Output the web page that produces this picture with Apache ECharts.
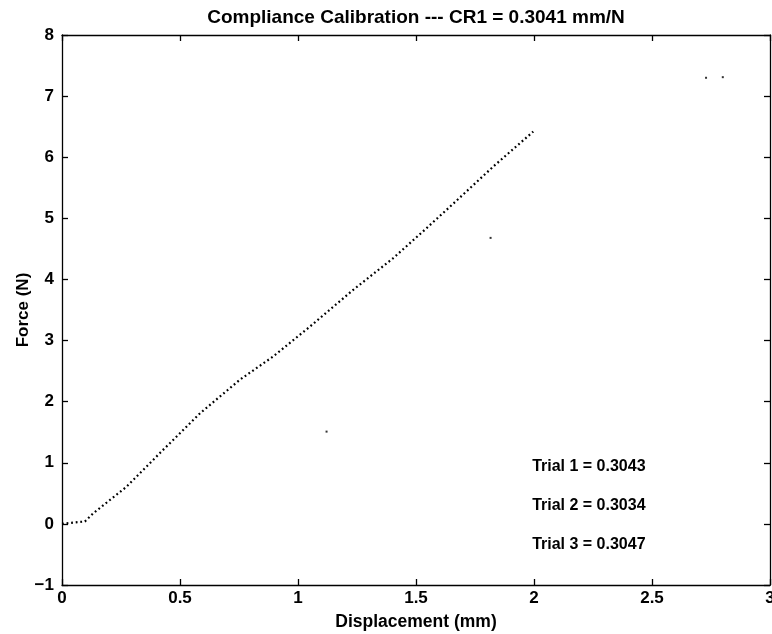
<!DOCTYPE html>
<html>
<head>
<meta charset="utf-8">
<script src="https://cdn.jsdelivr.net/npm/echarts@6/dist/echarts.min.js"></script>
<style>html,body{margin:0;padding:0;background:#fff}#c{width:772px;height:634px}</style>
</head>
<body>
<div id="c"></div>
<script>
const titleText = 'Compliance Calibration --- CR1 = 0.3041 mm/N';
const xName = 'Displacement (mm)';
const yName = 'Force (N)';
const xTicks = [0, 0.5, 1, 1.5, 2, 2.5, 3];
const yTicks = [-1, 0, 1, 2, 3, 4, 5, 6, 7, 8];
// calibration curve (displacement mm, force N)
const curveX = [0.00, 0.02, 0.097, 0.133, 0.274, 0.415, 0.585, 0.754, 0.895, 1.051, 1.234, 1.404, 1.545, 1.686, 1.828, 1.997];
const curveY = [0.00, 0.01, 0.04, 0.175, 0.61, 1.16, 1.81, 2.36, 2.74, 3.23, 3.83, 4.35, 4.84, 5.34, 5.85, 6.42];
// stray points
const strayX = [2.729, 2.80, 1.816, 1.121];
const strayY = [7.30, 7.31, 4.68, 1.51];
// annotations
const trialLabels = ['Trial 1 = 0.3043', 'Trial 2 = 0.3034', 'Trial 3 = 0.3047'];
const trialX = [1.99, 1.99, 1.99];
const trialY = [0.94, 0.30, -0.34];

const font = 'Liberation Sans, Arial, Helvetica, sans-serif';
const chart = echarts.init(document.getElementById('c'));
const axisLine = {show: true, onZero: false, lineStyle: {color: '#000', width: 1.3}};
const tick = {show: true, inside: true, length: 6, lineStyle: {color: '#000', width: 1.3}};
const lbl = {color: '#000', fontFamily: font, fontSize: 17, fontWeight: 'bold'};
const fmtY = v => String(v).replace('-', '\u2212');

chart.setOption({
  animation: false,
  backgroundColor: '#fff',
  title: {text: titleText, left: 411, top: 3, textAlign: 'center',
    textStyle: {color: '#000', fontFamily: font, fontSize: 19, fontWeight: 'bold'}},
  grid: {left: 62, right: 2, top: 35, bottom: 49, containLabel: false, outerBoundsMode: 'none'},
  xAxis: [
    {type: 'value', min: xTicks[0], max: xTicks[xTicks.length - 1], interval: 0.5,
      axisLine, axisTick: tick, splitLine: {show: false},
      axisLabel: Object.assign({}, lbl, {margin: 5}),
      name: xName, nameLocation: 'middle', nameGap: 28, nameMoveOverlap: false,
      nameTextStyle: {color: '#000', fontFamily: font, fontSize: 17.5, fontWeight: 'bold'}},
    {type: 'value', position: 'top', min: xTicks[0], max: xTicks[xTicks.length - 1], interval: 0.5,
      axisLine, axisTick: tick, axisLabel: {show: false}, splitLine: {show: false}}
  ],
  yAxis: [
    {type: 'value', min: yTicks[0], max: yTicks[yTicks.length - 1], interval: 1,
      axisLine, axisTick: tick, splitLine: {show: false},
      axisLabel: Object.assign({}, lbl, {margin: 8, formatter: fmtY}),
      name: yName, nameLocation: 'middle', nameGap: 30, nameRotate: 90, nameMoveOverlap: false,
      nameTextStyle: {color: '#000', fontFamily: font, fontSize: 17, fontWeight: 'bold'}},
    {type: 'value', position: 'right', min: yTicks[0], max: yTicks[yTicks.length - 1], interval: 1,
      axisLine, axisTick: tick, axisLabel: {show: false}, splitLine: {show: false}}
  ],
  series: [
    {type: 'line', data: curveX.map((x, i) => [x, curveY[i]]), showSymbol: false, smooth: false,
      lineStyle: {color: '#000', width: 2.2, type: [1.8, 2.8]}},
    {type: 'scatter', data: strayX.map((x, i) => [x, strayY[i]]), symbol: 'rect', symbolSize: 2,
      itemStyle: {color: '#000'}},
    {type: 'scatter', data: trialX.map((x, i) => ({value: [x, trialY[i]], name: trialLabels[i]})),
      symbolSize: 1, silent: true, itemStyle: {color: 'rgba(0,0,0,0)', opacity: 1},
      label: {show: true, position: 'right', distance: 0, formatter: p => p.name, opacity: 1,
        color: '#000', fontFamily: font, fontSize: 16, fontWeight: 'bold'}}
  ]
});
</script>
</body>
</html>
